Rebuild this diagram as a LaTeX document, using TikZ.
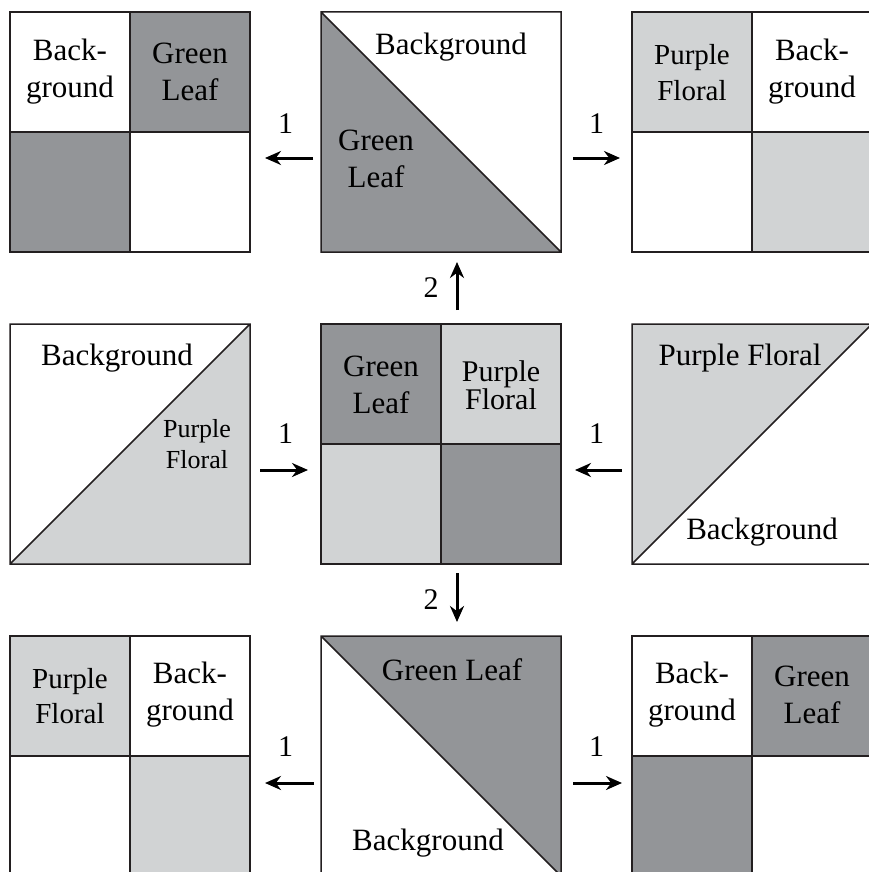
\documentclass[tikz,border=0pt]{standalone}
\usepackage{fontspec}
\setmainfont{Liberation Serif}
\usetikzlibrary{positioning,arrows.meta}
\definecolor{leaf}{HTML}{939598}
\definecolor{floral}{HTML}{D1D3D4}
\definecolor{seamcol}{HTML}{231F20}

\begin{document}
\begin{tikzpicture}[x=1pt,y=-1pt]
\tikzstyle{patch} = [rectangle, minimum size=240pt, inner sep=0pt, outer sep=0pt]
\tikzstyle{txt}   = [align=center, inner sep=0pt, font=\fontsize{31}{37}\selectfont]
\tikzstyle{num}   = [inner sep=0pt, font=\fontsize{30}{36}\selectfont]
\tikzstyle{seam}  = [draw=seamcol, line width=1.5pt]
\tikzstyle{arrow} = [line width=3pt, -{Stealth[length=16pt,width=14pt]}]

\useasboundingbox (0,0) rectangle (869,872);

\node (mc) [patch] at (441,444)     {};
\node (tm) [patch, above=72pt of mc] {};
\node (bc) [patch, below=72pt of mc] {};
\node (ml) [patch, left=71pt of mc]  {};
\node (mr) [patch, right=71pt of mc] {};
\node (tl) [patch, left=71pt of tm]  {};
\node (tr) [patch, right=71pt of tm] {};
\node (bl) [patch, left=71pt of bc]  {};
\node (br) [patch, right=71pt of bc] {};

\fill [leaf]   (tl.north) rectangle (tl.east);
\fill [leaf]   (tl.west) rectangle (tl.south);
\fill [floral] (tr.north west) rectangle (tr.center);
\fill [floral] (tr.center) rectangle (tr.south east);
\fill [leaf]   (mc.north west) rectangle (mc.center);
\fill [floral] (mc.north) rectangle (mc.east);
\fill [floral] (mc.west) rectangle (mc.south);
\fill [leaf]   (mc.center) rectangle (mc.south east);
\fill [floral] (bl.north west) rectangle (bl.center);
\fill [floral] (bl.center) rectangle (bl.south east);
\fill [leaf]   (br.north) rectangle (br.east);
\fill [leaf]   (br.west) rectangle (br.south);

\fill [leaf]   (tm.north west) -- (tm.south west) -- (tm.south east) -- cycle;
\fill [floral] (ml.south west) -- (ml.south east) -- (ml.north east) -- cycle;
\fill [floral] (mr.north west) -- (mr.north east) -- (mr.south west) -- cycle;
\fill [leaf]   (bc.north west) -- (bc.north east) -- (bc.south east) -- cycle;

\foreach \n in {tl,tr,mc,bl,br} {
  \draw [seam] (\n.north west) rectangle (\n.south east);
  \draw [seam] (\n.north) -- (\n.south) (\n.west) -- (\n.east);
}
\draw [seam] (tm.north west) rectangle (tm.south east) (tm.north west) -- (tm.south east);
\draw [seam] (ml.north west) rectangle (ml.south east) (ml.south west) -- (ml.north east);
\draw [seam] (mr.north west) rectangle (mr.south east) (mr.south west) -- (mr.north east);
\draw [seam] (bc.north west) rectangle (bc.south east) (bc.north west) -- (bc.south east);

\node (tlback)  [txt] at (70,72)  {Back-\\ground};
\node (tlleaf)  [txt] at (190,72) {Green\\Leaf};
\node (tmback)  [txt, anchor=base] at (451,55) {Background};
\node (tmleaf)  [txt] at (376,159) {Green\\Leaf};
\node (trfloral)[txt, font=\fontsize{29}{36}\selectfont] at (692,73) {Purple\\Floral};
\node (trback)  [txt] at (812,72) {Back-\\ground};

\node (mlback)  [txt, anchor=base] at (117,365) {Background};
\node (mlfloral)[txt, font=\fontsize{26}{31}\selectfont] at (197,444) {Purple\\Floral};
\node (mcleaf)  [txt] at (381,385) {Green\\Leaf};
\node (mcfloral)[txt, font=\fontsize{30}{28}\selectfont] at (501,385) {Purple\\Floral};
\node (mrfloral)[txt, anchor=base] at (740,365) {Purple Floral};
\node (mrback)  [txt, anchor=base] at (762,539) {Background};

\node (blfloral)[txt, font=\fontsize{29}{35}\selectfont] at (70,696) {Purple\\Floral};
\node (blback)  [txt] at (190,695) {Back-\\ground};
\node (bcleaf)  [txt, anchor=base] at (452,680) {Green Leaf};
\node (bcback)  [txt, anchor=base] at (428,850) {Background};
\node (brback)  [txt] at (692,695) {Back-\\ground};
\node (brleaf)  [txt] at (812,695) {Green\\Leaf};

\draw [arrow, shorten <=8pt,  shorten >=15pt] ([yshift=-26pt]tm.west) -- node[num, above=23pt] {1} ([yshift=-26pt]tl.east);
\draw [arrow, shorten <=12pt, shorten >=12pt] ([yshift=-26pt]tm.east) -- node[num, above=23pt] {1} ([yshift=-26pt]tr.west);
\draw [arrow, shorten <=14pt, shorten >=10pt] ([xshift=16pt]mc.north) -- node[num, left=17pt] {2} ([xshift=16pt]tm.south);
\draw [arrow, shorten <=10pt, shorten >=13pt] ([yshift=-26pt]ml.east) -- node[num, above=25pt] {1} ([yshift=-26pt]mc.west);
\draw [arrow, shorten <=10pt, shorten >=14pt] ([yshift=-26pt]mr.west) -- node[num, above=25pt] {1} ([yshift=-26pt]mc.east);
\draw [arrow, shorten <=9pt,  shorten >=14pt] ([xshift=16pt]mc.south) -- node[num, left=17pt] {2} ([xshift=16pt]bc.north);
\draw [arrow, shorten <=7pt,  shorten >=15pt] ([yshift=-27pt]bc.west) -- node[num, above=25pt] {1} ([yshift=-27pt]bl.east);
\draw [arrow, shorten <=12pt, shorten >=10pt] ([yshift=-27pt]bc.east) -- node[num, above=25pt] {1} ([yshift=-27pt]br.west);
\end{tikzpicture}
\end{document}
